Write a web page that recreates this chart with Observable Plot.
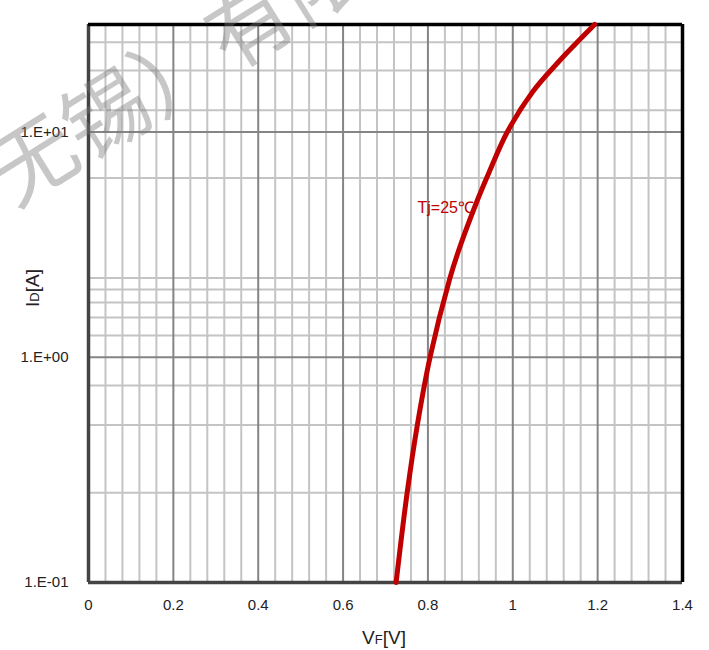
<!DOCTYPE html>
<html>
<head>
<meta charset="utf-8">
<script src="https://cdn.jsdelivr.net/npm/d3@7"></script>
<script src="https://cdn.jsdelivr.net/npm/@observablehq/plot@0.6"></script>
<style>
  body { margin: 0; background: #fff; }
  #chart { width: 709px; height: 650px; }
</style>
</head>
<body>
<div id="chart"></div>
<script>
// Forward characteristic: forward voltage VF [V] vs forward current ID [A], Tj = 25 °C
const vfVolts = [0.725, 0.751, 0.775, 0.805, 0.852, 0.873, 0.917, 0.945, 0.987, 1.047, 1.108, 1.146, 1.193];
const idAmps  = [0.1,   0.25,  0.5,   1.0,   2.25,  3.0,   5.0,   6.68,  10,    15.1,  20.5,  24.4,  30];

const xTicks = [0, 0.2, 0.4, 0.6, 0.8, 1.0, 1.2, 1.4];
const xTickLabels = ["0", "0.2", "0.4", "0.6", "0.8", "1", "1.2", "1.4"];
const yTicks = [0.1, 1, 10];
const yTickLabels = ["1.E-01", "1.E+00", "1.E+01"];

// secondary grid lines
const xMinorGrid = [0.04, 0.08, 0.12, 0.16, 0.24, 0.28, 0.32, 0.36, 0.44, 0.48, 0.52, 0.56,
                    0.64, 0.68, 0.72, 0.76, 0.84, 0.88, 0.92, 0.96, 1.04, 1.08, 1.12, 1.16,
                    1.24, 1.28, 1.32, 1.36];
const yMinorGrid = [0.25, 0.5, 0.75, 1.25, 1.5, 1.75, 2, 2.25, 6.25, 12.5, 18.75, 25];

const seriesName = "Tj=25℃";
const seriesLabelVf = 0.842;
const seriesLabelId = 4.58;

const points = vfVolts.map((v, i) => ({vf: v, id: idAmps[i]}));
const xLabelOf = new Map(xTicks.map((t, i) => [t, xTickLabels[i]]));
const yLabelOf = new Map(yTicks.map((t, i) => [t, yTickLabels[i]]));

const fontFamily = "'Liberation Sans', Arial, sans-serif";

const chart = Plot.plot({
  width: 709,
  height: 650,
  marginTop: 24,
  marginBottom: 68,
  marginLeft: 88,
  marginRight: 27,
  style: { fontFamily, fontSize: "15px", color: "#222", background: "#fff" },
  x: { domain: [0, 1.4], label: null },
  y: { type: "log", domain: [0.1, 30], label: null },
  marks: [
    Plot.ruleX(xMinorGrid, { stroke: "#c4c4c4", strokeWidth: 2 }),
    Plot.ruleY(yMinorGrid, { stroke: "#c4c4c4", strokeWidth: 2 }),
    Plot.ruleX(xTicks.slice(1, -1), { stroke: "#858585", strokeWidth: 2 }),
    Plot.ruleY([1, 10], { stroke: "#858585", strokeWidth: 2 }),
    Plot.ruleX([0], { stroke: "#444", strokeWidth: 3.5 }),
    Plot.ruleY([0.1], { stroke: "#444", strokeWidth: 3.5 }),
    Plot.ruleX([1.4], { stroke: "#000", strokeWidth: 3.5 }),
    Plot.ruleY([30], { stroke: "#000", strokeWidth: 3.5 }),
    Plot.line(points, { x: "vf", y: "id", stroke: "#c00000", strokeWidth: 5, curve: "catmull-rom" }),
    Plot.text([{ vf: seriesLabelVf, id: seriesLabelId, name: seriesName }], {
      x: "vf", y: "id", text: "name", fill: "#c00000", fontSize: 16, className: "series-label"
    }),
    Plot.axisX({ ticks: xTicks, tickFormat: d => xLabelOf.get(d), tickSize: 0, tickPadding: 17, fontSize: 15 }),
    Plot.axisY({ ticks: yTicks, tickFormat: d => yLabelOf.get(d), tickSize: 0, tickPadding: 20, fontSize: 15 })
  ]
});

document.getElementById("chart").appendChild(chart);

const svg = d3.select(chart);

// translucent box behind the series label
svg.selectAll(".series-label text").each(function () {
  const b = this.getBBox();
  d3.select(this.parentNode).insert("rect", () => this)
    .attr("x", b.x - 5).attr("y", b.y - 11)
    .attr("width", b.width + 10).attr("height", b.height + 22)
    .attr("fill", "#fff").attr("fill-opacity", 0.65);
});

// axis titles
const xt = svg.append("text")
  .attr("x", 384).attr("y", 644)
  .attr("text-anchor", "middle")
  .attr("font-family", fontFamily).attr("fill", "#222");
xt.append("tspan").attr("font-size", 19).text("V");
xt.append("tspan").attr("font-size", 13).text("F");
xt.append("tspan").attr("font-size", 19).text("[V]");

const yt = svg.append("text")
  .attr("transform", "translate(39,288) rotate(-90)")
  .attr("text-anchor", "middle")
  .attr("font-family", fontFamily).attr("fill", "#222");
yt.append("tspan").attr("font-size", 19).text("I");
yt.append("tspan").attr("font-size", 13).text("D");
yt.append("tspan").attr("font-size", 19).text("[A]");

// company watermark, running diagonally across the upper left
svg.append("text")
  .attr("transform", "translate(33,158) rotate(-32)")
  .attr("text-anchor", "start")
  .attr("x", -42.5).attr("dy", "0.38em")
  .attr("font-family", "'Noto Sans CJK SC', sans-serif")
  .attr("font-size", 85)
  .attr("fill", "#7a7a7a").attr("fill-opacity", 0.42)
  .text("无锡）有限公司");
</script>
</body>
</html>
